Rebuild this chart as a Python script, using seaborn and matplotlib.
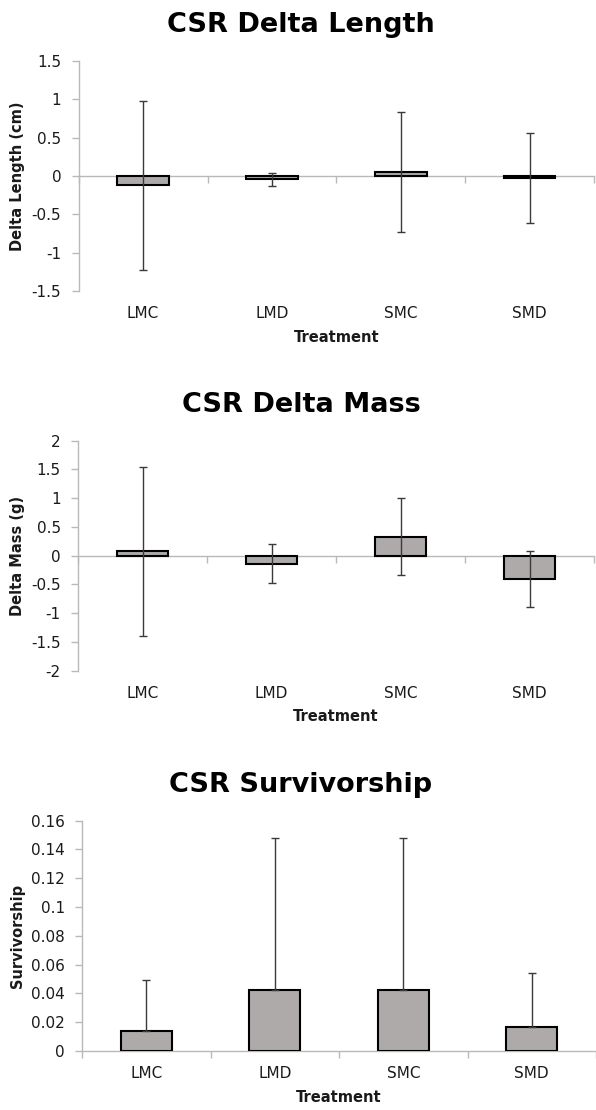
import matplotlib
matplotlib.use("Agg")
import matplotlib.pyplot as plt
import seaborn as sns
import numpy as np

# ---------------- data ----------------
categories = ["LMC", "LMD", "SMC", "SMD"]

length_mean = [-0.12, -0.045, 0.05, -0.025]
length_err = [1.10, 0.09, 0.78, 0.585]

mass_mean = [0.075, -0.14, 0.33, -0.41]
mass_err = [1.475, 0.34, 0.67, 0.49]

surv_mean = [0.014, 0.0425, 0.0425, 0.017]
surv_err = [0.0355, 0.1055, 0.1055, 0.037]

length_ticks = [-1.5, -1, -0.5, 0, 0.5, 1, 1.5]
mass_ticks = [-2, -1.5, -1, -0.5, 0, 0.5, 1, 1.5, 2]
surv_ticks = [0, 0.02, 0.04, 0.06, 0.08, 0.1, 0.12, 0.14, 0.16]

titles = ["CSR Delta Length", "CSR Delta Mass", "CSR Survivorship"]
ylabels = ["Delta Length (cm)", "Delta Mass (g)", "Survivorship"]
xlabel = "Treatment"

# ---------------- style ----------------
sns.set_style("white")
plt.rcParams["font.family"] = ["DejaVu Sans"]
plt.rcParams["axes.unicode_minus"] = False

BAR = "#aeaaaa"
GRAY = "#b9b9b9"
ERR = "#3a3a3a"
TXT = "#1a1a1a"

W, H = 596, 1110
fig = plt.figure(figsize=(W / 100, H / 100), dpi=100)

panels = [
    dict(mean=length_mean, err=length_err, ticks=length_ticks, both=True,
         box=(78.7, 594, 61, 291)),
    dict(mean=mass_mean, err=mass_err, ticks=mass_ticks, both=True,
         box=(78, 594, 440.7, 670.7)),
    dict(mean=surv_mean, err=surv_err, ticks=surv_ticks, both=False,
         box=(82, 596, 820.7, 1051)),
]

for p, title, ylab in zip(panels, titles, ylabels):
    x0, x1, y0, y1 = p["box"]
    l, w = x0 / W, (x1 - x0) / W
    b, h = 1 - y1 / H, (y1 - y0) / H
    ax = fig.add_axes([l, b, w, h])

    sns.barplot(x=categories, y=p["mean"], ax=ax, color=BAR, saturation=1,
                edgecolor="black", linewidth=1.5, width=0.4, errorbar=None,
                zorder=2)

    pos = np.arange(len(categories))
    err = np.asarray(p["err"])
    yerr = err if p["both"] else np.vstack([np.zeros_like(err), err])
    ax.errorbar(pos, p["mean"], yerr=yerr, fmt="none", ecolor=ERR,
                elinewidth=1.0, capsize=2.6, capthick=1.0, zorder=3)

    ax.set_ylim(p["ticks"][0], p["ticks"][-1])
    ax.set_yticks(p["ticks"], labels=[f"{t:g}" for t in p["ticks"]])
    ax.set_xlim(-0.5, len(categories) - 0.5)

    for s in ["top", "right"]:
        ax.spines[s].set_visible(False)
    ax.spines["left"].set_color(GRAY)
    ax.spines["left"].set_linewidth(1.0)
    ax.spines["bottom"].set_color(GRAY)
    ax.spines["bottom"].set_linewidth(1.0)
    ax.spines["bottom"].set_position(("data", 0))
    ax.spines["bottom"].set_zorder(1)

    ax.set_xticks(np.arange(len(categories) + 1) - 0.5)
    ax.tick_params(axis="x", length=5, width=1, color=GRAY, direction="out",
                   labelbottom=False, bottom=True)
    ax.tick_params(axis="y", length=5, width=1, color=GRAY, direction="out",
                   labelsize=11, labelcolor=TXT, pad=7.5, left=True)
    ax.set_xlabel("")

    sec = ax.secondary_xaxis("bottom")
    sec.set_xticks(pos, labels=categories)
    sec.tick_params(length=0, pad=11, labelsize=11, labelcolor=TXT)
    sec.spines["bottom"].set_visible(False)
    sec.set_xlabel(xlabel, fontweight="bold", fontsize=10.5, color=TXT,
                   labelpad=6)

    ax.set_ylabel(ylab, fontweight="bold", fontsize=10.5, color=TXT)
    ax.yaxis.set_label_coords((25 - x0) / (x1 - x0), 0.5)

    ax.set_title(title, fontsize=19.5, fontweight="bold", color="black",
                 pad=21, x=(301 - x0) / (x1 - x0))

fig.savefig("out.png", dpi=100)
